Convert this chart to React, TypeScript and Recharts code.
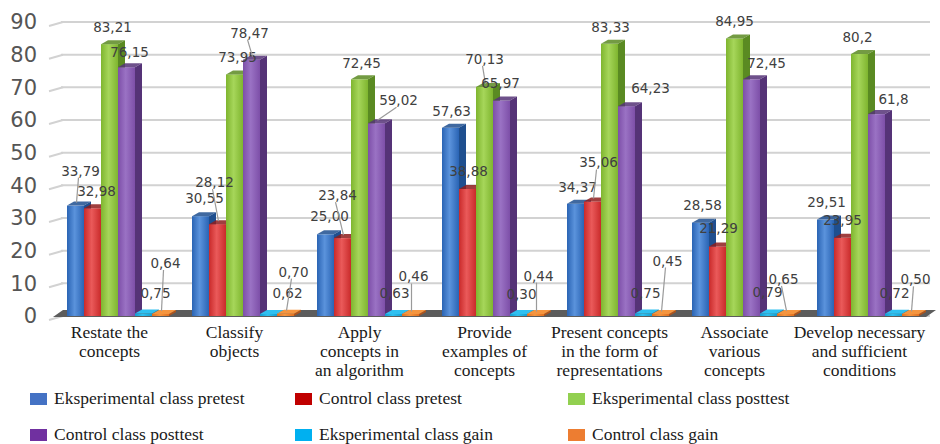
import { BarChart, Bar, XAxis, YAxis, CartesianGrid, LabelList } from "recharts";

const categories = [
  ["Restate the", "concepts"],
  ["Classify", "objects"],
  ["Apply", "concepts in", "an algorithm"],
  ["Provide", "examples of", "concepts"],
  ["Present concepts", "in the form of", "representations"],
  ["Associate", "various", "concepts"],
  ["Develop necessary", "and sufficient", "conditions"],
];

// values as printed on the chart (decimal comma)
const expPretest = ["33,79", "30,55", "25,00", "57,63", "34,37", "28,58", "29,51"];
const ctrlPretest = ["32,98", "28,12", "23,84", "38,88", "35,06", "21,29", "23,95"];
const expPosttest = ["83,21", "73,95", "72,45", "70,13", "83,33", "84,95", "80,2"];
const ctrlPosttest = ["76,15", "78,47", "59,02", "65,97", "64,23", "72,45", "61,8"];
const expGain = ["0,75", "0,62", "0,63", "0,30", "0,75", "0,79", "0,72"];
const ctrlGain = ["0,64", "0,70", "0,46", "0,44", "0,45", "0,65", "0,50"];

const yTicks = [0, 10, 20, 30, 40, 50, 60, 70, 80, 90];

// label placement (px above / beside each bar), like the hand-moved labels in the original
const labelLift: Record<string, number[]> = {
  ep: [35, 18, 18, 17, 17, 18, 18],
  cp: [17, 42, 43, 18, 39, 18, 18],
  gp: [17, 17, 16, 28, 17, 17, 17],
  pp: [15, 27, 23, 17, 18, 16, 15],
  eg: [21, 21, 21, 21, 21, 21, 21],
  cg: [51, 42, 38, 39, 54, 35, 35],
};
const labelShift: Record<string, number[]> = {
  ep: [5, 4, 4, 1, 2, 2, 1],
  cp: [4, -3, -5, 1, 6, 1, 0],
  gp: [3, 3, 2, 0, 1, 0, -2],
  pp: [3, -2, 22, -1, 24, 15, 17],
  eg: [12, 19, 1, 3, 2, -1, 1],
  cg: [5, 8, 3, 3, 7, -2, 5],
};

const SERIF = '"Liberation Serif", "Times New Roman", "DejaVu Serif", serif';
const SANS = '"DejaVu Sans", Verdana, sans-serif';

const num = (s: string) => parseFloat(s.replace(",", "."));

const series = [
  { key: "ep", name: "Eksperimental class pretest", vals: expPretest, legend: "#4472c4", light: "#5b93dc", dark: "#2a64b4", side: "#1f4f8f" },
  { key: "cp", name: "Control class pretest", vals: ctrlPretest, legend: "#c00000", light: "#ea5a5a", dark: "#c92a2a", side: "#8e1d1d" },
  { key: "gp", name: "Eksperimental class posttest", vals: expPosttest, legend: "#92d050", light: "#a6d65a", dark: "#7fb52f", side: "#5a8a22" },
  { key: "pp", name: "Control class posttest", vals: ctrlPosttest, legend: "#7030a0", light: "#9a72c4", dark: "#7d4fa8", side: "#553377" },
  { key: "eg", name: "Eksperimental class gain", vals: expGain, legend: "#00b0f0", light: "#2fc0f0", dark: "#119fd2", side: "#0a7aa5" },
  { key: "cg", name: "Control class gain", vals: ctrlGain, legend: "#ed7d31", light: "#f5953f", dark: "#e2701f", side: "#b0531a" },
];

const data = categories.map((lines, i) => {
  const row: any = { name: lines.join(" "), lines };
  series.forEach((s) => {
    row[s.key] = num(s.vals[i]);
    row[s.key + "Label"] = s.vals[i];
  });
  return row;
});

const DEPTH = 7;
const RISE = 4;

function Bar3D(props: any) {
  const { x, y, width, height, gid, side, light } = props;
  if (width == null || height == null) return null;
  const w = width;
  const h = Math.max(height, 2);
  const yy = y + height - h;
  const top = `${x},${yy} ${x + w},${yy} ${x + w + DEPTH},${yy - RISE} ${x + DEPTH},${yy - RISE}`;
  const sideP = `${x + w},${yy} ${x + w + DEPTH},${yy - RISE} ${x + w + DEPTH},${yy + h - RISE} ${x + w},${yy + h}`;
  const flat = height < 6;
  return (
    <g>
      <polygon points={sideP} fill={side} />
      <rect x={x} y={yy} width={w} height={h} fill={`url(#${gid})`} />
      <polygon points={top} fill={flat ? light : side} opacity={flat ? 1 : 0.85} />
    </g>
  );
}

// grid line; the lowest one also gets the dark floor slab
function GridLine(p: any) {
  const isFloor = p.y1 >= 300;
  return (
    <g key={p.key}>
      <line x1={p.x1 + 6} y1={p.y1} x2={p.x2} y2={p.y2} stroke="#d2d2d2" strokeWidth={2} />
      <line x1={p.x1 - 6} y1={p.y1 + 4} x2={p.x1 + 8} y2={p.y1} stroke="#d2d2d2" strokeWidth={2} />
      {isFloor && (
        <polygon
          points={`${p.x1 - 2},${p.y1 + 1} ${p.x2 - 4},${p.y1 + 1} ${p.x2 + 6},${p.y1 - 6} ${p.x1 + 8},${p.y1 - 6}`}
          fill="#5c5c5c"
        />
      )}
    </g>
  );
}

function CategoryTick(props: any) {
  const { x, y, payload } = props;
  const row = data.find((d) => d.name === payload.value);
  const lines: string[] = row ? row.lines : [payload.value];
  return (
    <text
      x={x - 8}
      y={y + 14}
      textAnchor="middle"
      style={{ fontFamily: SERIF }}
      fontSize={17.5}
      fill="#1a1a1a"
    >
      {lines.map((l, i) => (
        <tspan key={i} x={x - 8} dy={i === 0 ? 0 : 19}>
          {l}
        </tspan>
      ))}
    </text>
  );
}

function makeLabel(key: string) {
  return (props: any) => {
    const { x, y, width, value, index } = props;
    const lift = labelLift[key][index];
    const shift = labelShift[key][index];
    const bx = x + width / 2;
    const cx = bx + shift;
    const cy = y - lift;
    const lead = lift > 22;
    return (
      <g>
        {lead && (
          <line x1={cx - 2} y1={cy + 7} x2={bx + 1} y2={y - 3} stroke="#9a9a9a" strokeWidth={1.2} />
        )}
        <text
          x={cx}
          y={cy + 5}
          textAnchor="middle"
          style={{ fontFamily: SANS }}
          fontSize={13.5}
          fill="#404040"
        >
          {value}
        </text>
      </g>
    );
  };
}

export default function App() {
  return (
    <div
      style={{
        position: "absolute",
        left: 0,
        top: 0,
        width: 940,
        height: 444,
        background: "#ffffff",
        fontFamily: SERIF,
      }}
    >
      <BarChart
        width={940}
        height={392}
        data={data}
        margin={{ top: 22, right: 10, bottom: 0, left: 0 }}
        barGap={0}
        barSize={17}
      >
        <defs>
          {series.map((s) => (
            <linearGradient key={s.key} id={"g-" + s.key} x1="0" y1="0" x2="1" y2="0">
              <stop offset="0%" stopColor={s.dark} />
              <stop offset="45%" stopColor={s.light} />
              <stop offset="100%" stopColor={s.dark} />
            </linearGradient>
          ))}
        </defs>
        <CartesianGrid vertical={false} horizontal={(p: any) => <GridLine {...p} />} />
        <XAxis
          dataKey="name"
          height={76}
          axisLine={false}
          tickLine={false}
          interval={0}
          tick={<CategoryTick />}
        />
        <YAxis
          width={55}
          domain={[0, 90]}
          ticks={yTicks}
          axisLine={false}
          tickLine={false}
          tickMargin={12}
          tick={{ fontSize: 21, fill: "#555555", style: { fontFamily: SANS } }}
        />
        {series.map((s) => (
          <Bar
            key={s.key}
            dataKey={s.key}
            name={s.name}
            isAnimationActive={false}
            shape={<Bar3D gid={"g-" + s.key} side={s.side} light={s.light} />}
          >
            <LabelList dataKey={s.key + "Label"} content={makeLabel(s.key)} />
          </Bar>
        ))}
      </BarChart>

      {series.map((s, i) => {
        const col = i % 3;
        const rowIdx = Math.floor(i / 3);
        const left = [30, 295, 568][col];
        const top = [388, 424][rowIdx];
        return (
          <div
            key={s.key}
            style={{
              position: "absolute",
              left,
              top,
              display: "flex",
              alignItems: "center",
              gap: 7,
              fontSize: 17.5,
              fontFamily: SERIF,
              color: "#1a1a1a",
            }}
          >
            <span style={{ width: 17, height: 12, background: s.legend, display: "inline-block" }} />
            <span>{s.name}</span>
          </div>
        );
      })}
    </div>
  );
}
